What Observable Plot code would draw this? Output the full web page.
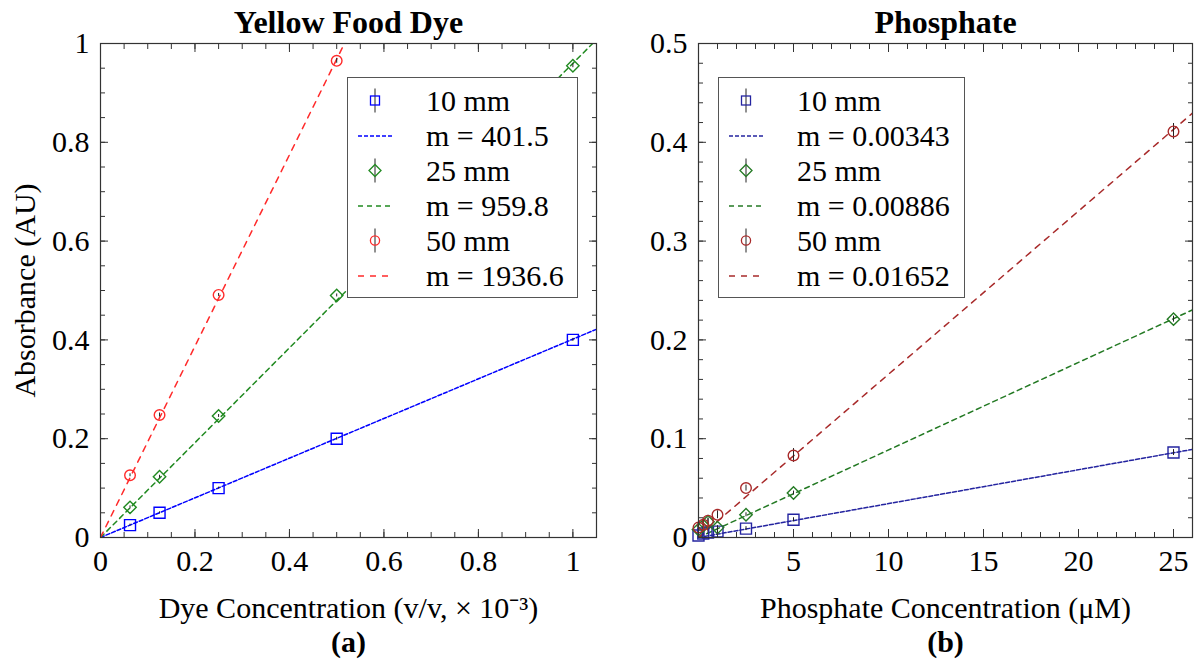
<!DOCTYPE html>
<html><head><meta charset="utf-8">
<script src="https://cdn.jsdelivr.net/npm/d3@7"></script>
<script src="https://cdn.jsdelivr.net/npm/@observablehq/plot@0.6"></script>
<style>
body{margin:0;background:#fff;}
#wrap{position:relative;width:1194px;height:664px;overflow:hidden;}
.panel{position:absolute;top:0;}
.legend{position:absolute;border:1px solid #555;background:#fff;box-sizing:border-box;}
.row{position:absolute;left:0;height:35px;width:100%;}
.row svg{position:absolute;left:0;top:0;}
.row span{position:absolute;top:0;line-height:35px;font-size:30px;color:#000;white-space:nowrap;}
</style></head>
<body><div id="wrap"></div>
<script>
// ---------- data ----------
const seriesNames = ["10 mm", "25 mm", "50 mm"];

// (a) Yellow food dye, concentration in v/v x 10^-3
const dyeConc = [0.0625, 0.125, 0.25, 0.5, 1];
const dyeAbs10 = [0.025, 0.05, 0.1, 0.2, 0.4];
const dyeAbs25 = [0.061, 0.123, 0.246, 0.49, 0.955];
const dyeAbs50 = [0.126, 0.248, 0.491, 0.965];
const dyeErr10 = [0.002, 0.002, 0.002, 0.003, 0.003];
const dyeErr25 = [0.003, 0.003, 0.003, 0.003, 0.004];
const dyeErr50 = [0.003, 0.004, 0.003, 0.005];
const dyeSlopes = [401.5, 959.8, 1936.6];

// (b) Phosphate, concentration in uM
const phosConc = [0, 0.25, 0.5, 1, 2.5, 5, 25];
const phosAbs10 = [0.002, 0.004, 0.005, 0.006, 0.009, 0.018, 0.086];
const phosAbs25 = [0.008, 0.012, 0.016, 0.010, 0.023, 0.045, 0.221];
const phosAbs50 = [0.010, 0.013, 0.017, 0.023, 0.050, 0.083, 0.411];
const phosErr10 = [0.003, 0.002, 0.002, 0.002, 0.002, 0.002, 0.003];
const phosErr25 = [0.004, 0.003, 0.003, 0.002, 0.002, 0.002, 0.003];
const phosErr50 = [0.004, 0.004, 0.003, 0.004, 0.003, 0.007, 0.008];
const phosSlopes = [0.00343, 0.00886, 0.01652];

// tick labels
const dyeXTicks = [0, 0.2, 0.4, 0.6, 0.8, 1];
const dyeXTickLabels = ["0", "0.2", "0.4", "0.6", "0.8", "1"];
const dyeYTicks = [0, 0.2, 0.4, 0.6, 0.8, 1];
const dyeYTickLabels = ["0", "0.2", "0.4", "0.6", "0.8", "1"];
const phosXTicks = [0, 5, 10, 15, 20, 25];
const phosXTickLabels = ["0", "5", "10", "15", "20", "25"];
const phosYTicks = [0, 0.1, 0.2, 0.3, 0.4, 0.5];
const phosYTickLabels = ["0", "0.1", "0.2", "0.3", "0.4", "0.5"];

// ---------- styling ----------
const FONT = "'Liberation Serif','Times New Roman',Times,serif";
const symbols = ["square", "diamond2", "circle"];
const radii = [6.2, 5.6, 5.3];
const dashes = ["4,2", "5,4", "6,6"];
const dyeColors = ["#0000ff", "#218a21", "#ff2a2a"];
const phosColors = ["#2424a0", "#247a24", "#a82a2a"];

function rangeTicks(step, max) {
  const n = Math.round(max / step);
  return d3.range(0, n + 1).map(i => +(i * step).toFixed(4));
}

function panel(cfg) {
  const marks = [];
  const xmax = cfg.xDomain[1];
  cfg.series.forEach((s, k) => {
    const fit = [{x: 0, y: 0}, {x: xmax, y: s.slope * cfg.slopeScale * xmax}];
    marks.push(Plot.line(fit, {x: "x", y: "y", stroke: cfg.colors[k], strokeWidth: 1.5,
      strokeDasharray: dashes[k], clip: true}));
  });
  cfg.series.forEach((s, k) => {
    const pts = s.y.map((y, i) => ({x: cfg.x[i], y, e: s.err[i]}));
    marks.push(Plot.ruleX(pts, {x: "x", y1: d => d.y - d.e, y2: d => d.y + d.e, stroke: "#222", strokeWidth: 1}));
    marks.push(Plot.dot(pts, {x: "x", y: "y", symbol: () => symbols[k], r: radii[k],
      stroke: cfg.colors[k], fill: "none", strokeWidth: 1.4}));
  });
  const fmtX = d => cfg.xTickLabels[cfg.xTicks.indexOf(d)];
  const fmtY = d => cfg.yTickLabels[cfg.yTicks.indexOf(d)];
  const blank = () => "";
  const tickStroke = "#333";
  marks.push(
    Plot.axisX({anchor: "bottom", ticks: cfg.xTicks, tickSize: 0, tickPadding: 12, tickFormat: fmtX, label: null, fontSize: 30}),
    Plot.axisY({anchor: "left", ticks: cfg.yTicks, tickSize: 0, tickPadding: 11, tickFormat: fmtY, label: null, fontSize: 30}),
    Plot.axisX({anchor: "bottom", ticks: cfg.xMinor, tickSize: -5, tickFormat: blank, label: null, stroke: tickStroke}),
    Plot.axisX({anchor: "top", ticks: cfg.xMinor, tickSize: -5, tickFormat: blank, label: null, stroke: tickStroke}),
    Plot.axisX({anchor: "bottom", ticks: cfg.xTicks, tickSize: -8, tickFormat: blank, label: null, stroke: tickStroke}),
    Plot.axisX({anchor: "top", ticks: cfg.xTicks, tickSize: -8, tickFormat: blank, label: null, stroke: tickStroke}),
    Plot.axisY({anchor: "left", ticks: cfg.yMinor, tickSize: -5, tickFormat: blank, label: null, stroke: tickStroke}),
    Plot.axisY({anchor: "right", ticks: cfg.yMinor, tickSize: -5, tickFormat: blank, label: null, stroke: tickStroke}),
    Plot.axisY({anchor: "left", ticks: cfg.yTicks, tickSize: -8, tickFormat: blank, label: null, stroke: tickStroke}),
    Plot.axisY({anchor: "right", ticks: cfg.yTicks, tickSize: -8, tickFormat: blank, label: null, stroke: tickStroke}),
    Plot.frame({stroke: "#333", strokeWidth: 1.2}),
    Plot.text([cfg.title], {frameAnchor: "top", textAnchor: "middle", lineAnchor: "middle", dy: -21, fontSize: 32, fontWeight: "bold"}),
    Plot.text([cfg.xLabel], {frameAnchor: "bottom", textAnchor: "middle", lineAnchor: "middle", dy: 71, fontSize: 30}),
    Plot.text([cfg.tag], {frameAnchor: "bottom", textAnchor: "middle", lineAnchor: "middle", dy: 105, fontSize: 30, fontWeight: "bold"})
  );
  if (cfg.yLabel) marks.push(Plot.text([cfg.yLabel], {frameAnchor: "left", textAnchor: "middle", lineAnchor: "middle", rotate: -90, dx: -75, fontSize: 30}));
  return Plot.plot({
    width: 597, height: 664,
    marginLeft: cfg.marginLeft, marginRight: cfg.marginRight, marginTop: 43, marginBottom: 127,
    x: {domain: cfg.xDomain, axis: null},
    y: {domain: cfg.yDomain, axis: null},
    style: {fontFamily: FONT, fontSize: "30px", color: "#000", background: "transparent", overflow: "visible"},
    marks
  });
}

function legend(left, top, width, colors, slopes) {
  const box = document.createElement("div");
  box.className = "legend";
  Object.assign(box.style, {left: left + "px", top: top + "px", width: width + "px", height: "221px"});
  const ns = "http://www.w3.org/2000/svg";
  seriesNames.forEach((name, k) => {
    const entries = [
      {text: name, kind: "marker"},
      {text: "m = " + slopes[k], kind: "line"}
    ];
    entries.forEach((en, j) => {
      const row = document.createElement("div");
      row.className = "row";
      row.style.top = (5 + (k * 2 + j) * 35) + "px";
      const svg = document.createElementNS(ns, "svg");
      svg.setAttribute("width", 60); svg.setAttribute("height", 35);
      const c = colors[k];
      if (en.kind === "line") {
        const ln = document.createElementNS(ns, "line");
        const at = {x1: 10, x2: 44, y1: 18, y2: 18, stroke: c, "stroke-width": 1.5, "stroke-dasharray": dashes[k]};
        for (const a in at) ln.setAttribute(a, at[a]);
        svg.appendChild(ln);
      } else {
        const eb = document.createElementNS(ns, "line");
        const ea = {x1: 27, x2: 27, y1: 5.5, y2: 29.5, stroke: "#222", "stroke-width": 1};
        for (const a in ea) eb.setAttribute(a, ea[a]);
        svg.appendChild(eb);
        let m;
        if (k === 0) {
          m = document.createElementNS(ns, "rect");
          const ma = {x: 22.5, y: 13, width: 9, height: 9};
          for (const a in ma) m.setAttribute(a, ma[a]);
        } else if (k === 1) {
          m = document.createElementNS(ns, "path");
          m.setAttribute("d", "M27,11.5 L33,17.5 L27,23.5 L21,17.5 Z");
        } else {
          m = document.createElementNS(ns, "circle");
          const ma = {cx: 27, cy: 17.5, r: 4.6};
          for (const a in ma) m.setAttribute(a, ma[a]);
        }
        m.setAttribute("fill", "none");
        m.setAttribute("stroke", c);
        m.setAttribute("stroke-width", 1.3);
        svg.appendChild(m);
      }
      row.appendChild(svg);
      const sp = document.createElement("span");
      sp.style.left = "78px";
      sp.style.fontFamily = FONT;
      sp.textContent = en.text;
      row.appendChild(sp);
      box.appendChild(row);
    });
  });
  return box;
}

const wrap = document.getElementById("wrap");

const left = panel({
  title: "Yellow Food Dye",
  xLabel: "Dye Concentration (v/v, \u00d7 10\u207b\u00b3)",
  yLabel: "Absorbance (AU)",
  tag: "(a)",
  x: dyeConc,
  series: [
    {y: dyeAbs10, err: dyeErr10, slope: dyeSlopes[0]},
    {y: dyeAbs25, err: dyeErr25, slope: dyeSlopes[1]},
    {y: dyeAbs50, err: dyeErr50, slope: dyeSlopes[2]}
  ],
  slopeScale: 1e-3,
  colors: dyeColors,
  xDomain: [0, 1.05], yDomain: [0, 1],
  xTicks: dyeXTicks, xTickLabels: dyeXTickLabels,
  yTicks: dyeYTicks, yTickLabels: dyeYTickLabels,
  xMinor: rangeTicks(0.05, 1.05), yMinor: rangeTicks(0.05, 1),
  marginLeft: 100, marginRight: 1
});
left.classList.add("panel");
left.style.left = "0px";
wrap.appendChild(left);

const right = panel({
  title: "Phosphate",
  xLabel: "Phosphate Concentration (\u03bcM)",
  yLabel: null,
  tag: "(b)",
  x: phosConc,
  series: [
    {y: phosAbs10, err: phosErr10, slope: phosSlopes[0]},
    {y: phosAbs25, err: phosErr25, slope: phosSlopes[1]},
    {y: phosAbs50, err: phosErr50, slope: phosSlopes[2]}
  ],
  slopeScale: 1,
  colors: phosColors,
  xDomain: [0, 26], yDomain: [0, 0.5],
  xTicks: phosXTicks, xTickLabels: phosXTickLabels,
  yTicks: phosYTicks, yTickLabels: phosYTickLabels,
  xMinor: rangeTicks(1, 26), yMinor: rangeTicks(0.02, 0.5),
  marginLeft: 101, marginRight: 2
});
right.classList.add("panel");
right.style.left = "597px";
wrap.appendChild(right);

wrap.appendChild(legend(347, 77, 231, dyeColors, dyeSlopes));
wrap.appendChild(legend(718, 77, 247, phosColors, phosSlopes));
</script>
</body></html>
